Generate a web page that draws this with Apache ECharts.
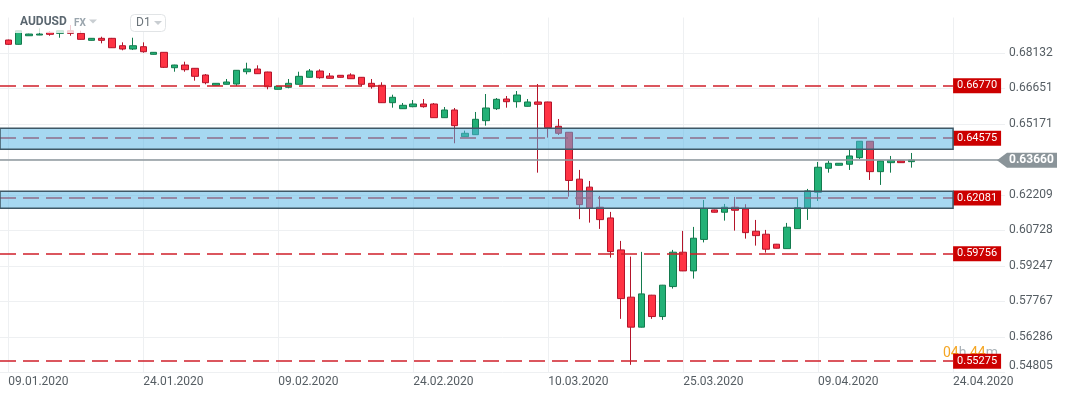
<!DOCTYPE html>
<html>
<head>
<meta charset="utf-8">
<script src="https://cdn.jsdelivr.net/npm/echarts@6/dist/echarts.min.js"></script>
<style>
html, body { margin: 0; padding: 0; background: #fff; }
#main { width: 1069px; height: 398px; }
</style>
</head>
<body>
<div id="main"></div>
<script>
// AUDUSD D1, one candle per trading day (incl. Sunday bars), index 0 = 09.01.2020
var opens = [0.68673,0.68494,0.68852,0.68881,0.68994,0.68952,0.69061,0.68952,0.68660,0.68744,
  0.68744,0.68435,0.68298,0.68394,0.68077,0.68160,0.67518,0.67630,0.67493,0.67214,
  0.66784,0.66826,0.66838,0.67351,0.67464,0.67339,0.66617,0.66701,0.66826,0.67118,
  0.67380,0.67172,0.67201,0.67214,0.67118,0.66867,0.66784,0.66058,0.65808,0.65892,
  0.66004,0.66004,0.65433,0.65754,0.64640,0.64724,0.65308,0.65808,0.66213,0.66100,
  0.65908,0.66088,0.66088,0.65074,0.64824,0.62868,0.62535,0.61697,0.61250,0.59916,
  0.57944,0.56693,0.58027,0.57135,0.58386,0.59820,0.59040,0.60354,0.61584,0.61488,
  0.61697,0.61626,0.60696,0.60571,0.60154,0.59970,0.60804,0.61655,0.62322,0.63323,
  0.63448,0.63490,0.63765,0.64449,0.63181,0.63556,0.63627,0.63598];
var closes = [0.68494,0.69061,0.68923,0.68923,0.68911,0.69061,0.68952,0.68702,0.68744,0.68660,
  0.68352,0.68298,0.68435,0.68185,0.68160,0.67535,0.67630,0.67435,0.67159,0.66892,
  0.66867,0.66922,0.67410,0.67464,0.67268,0.66726,0.66742,0.66867,0.67159,0.67380,
  0.67101,0.67076,0.67118,0.67059,0.66826,0.66726,0.66058,0.66284,0.65950,0.66004,
  0.65892,0.65433,0.65754,0.65099,0.64782,0.65366,0.65837,0.66200,0.66100,0.66379,
  0.66088,0.65992,0.65016,0.64782,0.62814,0.61805,0.61655,0.61180,0.59845,0.57885,
  0.56693,0.58081,0.57135,0.58444,0.59820,0.59040,0.60404,0.61647,0.61488,0.61697,
  0.61571,0.60637,0.60512,0.59945,0.59987,0.60863,0.61680,0.62376,0.63365,0.63531,
  0.63531,0.63836,0.64449,0.63181,0.63627,0.63640,0.63556,0.63660];
var lows = [0.68470,0.68480,0.68845,0.68875,0.68852,0.68769,0.68852,0.68690,0.68650,0.68535,
  0.68340,0.68244,0.68256,0.68143,0.68065,0.67505,0.67351,0.67351,0.66976,0.66826,
  0.66775,0.66815,0.66755,0.67243,0.67255,0.66617,0.66610,0.66659,0.66815,0.67105,
  0.67059,0.67065,0.67105,0.67050,0.66726,0.66642,0.66045,0.65850,0.65795,0.65867,
  0.65850,0.65420,0.65420,0.64365,0.64630,0.64710,0.65099,0.65754,0.65850,0.65850,
  0.65895,0.63139,0.64599,0.64711,0.62139,0.61200,0.61054,0.60792,0.59595,0.57039,
  0.55121,0.56680,0.57039,0.56997,0.58302,0.59030,0.58719,0.60229,0.61475,0.61138,
  0.60721,0.60387,0.60095,0.59803,0.59975,0.59960,0.60795,0.61167,0.61959,0.63139,
  0.63440,0.63252,0.63711,0.62835,0.62627,0.63139,0.63545,0.63348];
var highs = [0.68690,0.69075,0.68935,0.69161,0.69048,0.69070,0.69298,0.69061,0.68755,0.68811,
  0.68760,0.68577,0.68769,0.68577,0.68170,0.68170,0.67640,0.67768,0.67505,0.67255,
  0.66875,0.67047,0.67420,0.67726,0.67618,0.67350,0.66750,0.67047,0.67351,0.67464,
  0.67451,0.67297,0.67210,0.67284,0.67130,0.67047,0.66909,0.66392,0.66046,0.66171,
  0.66213,0.66046,0.65879,0.65837,0.64891,0.65671,0.66421,0.66254,0.66338,0.66546,
  0.66213,0.66838,0.66100,0.65379,0.64835,0.63252,0.62793,0.62168,0.61501,0.60291,
  0.59637,0.59833,0.58040,0.58455,0.59916,0.60708,0.60875,0.61999,0.61595,0.61834,
  0.62126,0.61822,0.61167,0.60750,0.60165,0.61042,0.62084,0.62460,0.63586,0.63640,
  0.63540,0.64086,0.64460,0.64460,0.63640,0.63836,0.63640,0.63961];

var yTicks = [0.54805,0.56286,0.57767,0.59247,0.60728,0.62209,0.63690,0.65171,0.66651,0.68132];
var xTickIdx = [0,13,26,39,52,65,78,91];
var xTickText = ['09.01.2020','24.01.2020','09.02.2020','24.02.2020','10.03.2020','25.03.2020','09.04.2020','24.04.2020'];
var levels = [0.66770,0.64575,0.62081,0.59756,0.55275];
var zones = [[0.64989,0.64113],[0.62360,0.61651]];
var lastPrice = 0.63660;

var X_MIN = -0.8, X_END = 91, X_MAX = 96;
var Y_MIN = 0.54805, Y_MAX = 0.69613;

var chart = echarts.init(document.getElementById('main'));

var candles = opens.map(function (o, i) {
  return [i, o, closes[i], lows[i], highs[i]];
});

var levelLines = levels.map(function (v) {
  return [{ name: v.toFixed(5), xAxis: X_MIN, yAxis: v }, { xAxis: X_END, yAxis: v }];
});
var zoneAreas = zones.map(function (z) {
  return [{ xAxis: X_MIN, yAxis: z[0] }, { xAxis: X_END, yAxis: z[1] }];
});

var option = {
  animation: false,
  textStyle: { fontFamily: 'Roboto' },
  grid: { left: 0, top: 17.5, right: 64, bottom: 25.6 },
  xAxis: {
    type: 'value',
    min: X_MIN,
    max: X_MAX,
    axisLine: { show: false },
    axisTick: { show: false, customValues: xTickIdx },
    axisLabel: {
      customValues: xTickIdx,
      formatter: function (v) {
        var k = xTickIdx.indexOf(Math.round(v));
        return k >= 0 ? xTickText[k] : '';
      },
      align: 'left',
      margin: 4,
      color: '#555d63',
      fontSize: 12,
      fontFamily: 'Roboto'
    },
    splitLine: { show: true, lineStyle: { color: '#eef0f2', width: 1 } }
  },
  yAxis: {
    type: 'value',
    position: 'right',
    min: Y_MIN,
    max: Y_MAX,
    axisLine: { show: false },
    axisTick: { show: false, customValues: yTicks },
    axisLabel: {
      customValues: yTicks,
      margin: 4,
      color: '#555d63',
      fontSize: 12,
      fontFamily: 'Roboto',
      formatter: function (v) {
        var s = Number(v).toFixed(5);
        return Math.abs(v - Y_MIN) < 1e-7 ? '{lo|' + s + '}' : s;
      },
      rich: { lo: { padding: [0, 0, 12, 0], color: '#555d63', fontSize: 12, fontFamily: 'Roboto' } }
    },
    splitLine: { show: true, lineStyle: { color: '#eef0f2', width: 1 } }
  },
  series: [
    {
      name: 'AUDUSD',
      type: 'candlestick',
      z: 2,
      barWidth: 7,
      data: candles,
      itemStyle: {
        color: '#22b176',
        color0: '#ff3344',
        borderColor: '#137b4e',
        borderColor0: '#b3142a',
        borderWidth: 1
      }
    },
    {
      name: 'levels',
      type: 'line',
      data: [],
      markLine: {
        z: 3,
        silent: true,
        symbol: ['none', 'none'],
        animation: false,
        lineStyle: { color: '#cf1f2a', type: [16, 7], width: 1.5 },
        label: {
          show: true,
          position: 'end',
          distance: 0,
          formatter: '{b}',
          backgroundColor: '#cc0000',
          color: '#ffffff',
          fontSize: 11,
          fontFamily: 'Roboto',
          padding: [2, 4, 2, 4]
        },
        emphasis: { disabled: true },
        data: levelLines
      }
    },
    {
      name: 'zones',
      type: 'line',
      data: [],
      markArea: {
        z: 4,
        silent: true,
        animation: false,
        itemStyle: {
          color: 'rgba(85,180,228,0.52)',
          borderColor: '#3f5866',
          borderWidth: 1.5
        },
        data: zoneAreas
      }
    },
    {
      name: 'price',
      type: 'line',
      data: [],
      markLine: {
        z: 4,
        silent: true,
        symbol: ['none', 'none'],
        animation: false,
        lineStyle: { color: '#8c979d', type: 'solid', width: 1.5 },
        label: { show: false },
        emphasis: { disabled: true },
        data: [[{ xAxis: X_MIN, yAxis: lastPrice }, { xAxis: X_MAX, yAxis: lastPrice }]]
      }
    }
  ]
};
chart.setOption(option);

var py = chart.convertToPixel({ gridIndex: 0 }, [0, lastPrice])[1];
var pyLast = chart.convertToPixel({ gridIndex: 0 }, [X_END, Y_MIN]);

chart.setOption({
  graphic: [
    { type: 'rect', z: 10, shape: { x: 14, y: 8, width: 92, height: 25 }, style: { fill: 'rgba(255,255,255,0.78)' } },
    { type: 'text', z: 11, x: 20, y: 22, style: { text: 'AUDUSD', fill: '#5b6770', font: 'bold 12px Roboto', textVerticalAlign: 'middle' } },
    { type: 'text', z: 11, x: 74, y: 23, style: { text: 'FX', fill: '#9aa5ad', font: 'bold 10px Roboto', textVerticalAlign: 'middle' } },
    { type: 'polygon', z: 11, shape: { points: [[89, 19.5], [97, 19.5], [93, 23.5]] }, style: { fill: '#c9ced2' } },
    { type: 'rect', z: 11, shape: { x: 130.5, y: 14.5, width: 35, height: 17, r: 4 }, style: { fill: '#ffffff', stroke: '#e1e4e6', lineWidth: 1 } },
    { type: 'text', z: 12, x: 136, y: 23, style: { text: 'D1', fill: '#6b747a', font: '12px Roboto', textVerticalAlign: 'middle' } },
    { type: 'polygon', z: 12, shape: { points: [[154, 21], [162, 21], [158, 25]] }, style: { fill: '#c9ced2' } },
    { type: 'polygon', z: 10, shape: { points: [[997, py], [1007, py - 7.5], [1057, py - 7.5], [1057, py + 7.5], [1007, py + 7.5]] }, style: { fill: '#8a9499' } },
    { type: 'text', z: 11, x: 1009, y: py, style: { text: lastPrice.toFixed(5), fill: '#ffffff', font: 'bold 12px Roboto', textVerticalAlign: 'middle' } },
    { type: 'text', z: 1, x: 943, y: pyLast[1] - 19, style: {
        text: '{o|04}{g|h }{o|44}{g|m}',
        rich: {
          o: { fill: '#f5a623', font: '14px Roboto' },
          g: { fill: '#aab2b8', font: '14px Roboto' }
        },
        textVerticalAlign: 'middle'
      } }
  ]
});
</script>
</body>
</html>
